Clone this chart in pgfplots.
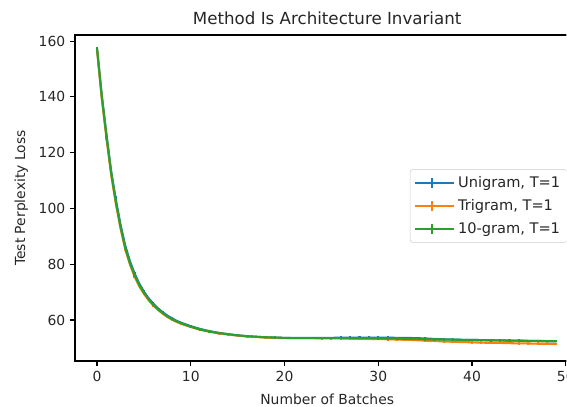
\documentclass[border=0pt]{standalone}
\usepackage{pgfplots}
\pgfplotsset{compat=1.18}
\usepackage{pgfplotstable}
\usepackage{fontspec}
\setmainfont{DejaVu Sans}
\definecolor{tabblue}{HTML}{1F77B4}
\definecolor{taborange}{HTML}{FF7F0E}
\definecolor{tabgreen}{HTML}{2CA02C}

\pgfplotstableread{
x y e
0 157.5 0.5
0.5 140.8 0
1 126.8 1.0
1.5 113.6 0
2 103.3 1.0
2.5 94.3 0
3 86.8 0.8
3.5 81.2 0
4 76.7 0.6
4.5 73.1 0
5 70.2 0.5
5.5 67.8 0
6 65.9 0.4
6.5 64.2 0
7 62.8 0.4
7.5 61.6 0
8 60.6 0.4
8.5 59.7 0
9 59.0 0.4
10 57.8 0.4
11 56.8 0.4
12 56.0 0.4
13 55.4 0.4
14 54.9 0.4
15 54.5 0.4
16 54.2 0.4
17 54.0 0.4
18 53.8 0.4
19 53.7 0.4
20 53.6 0.4
21 53.6 0.4
22 53.6 0.4
23 53.6 0.4
24 53.6 0.4
25 53.6 0.45
26 53.7 0.45
27 53.7 0.45
28 53.7 0.45
29 53.7 0.45
30 53.7 0.45
31 53.7 0.45
32 53.6 0.45
33 53.6 0.45
34 53.5 0.45
35 53.4 0.45
36 53.2 0.45
37 53.1 0.45
38 53.0 0.45
39 52.9 0.45
40 52.9 0.45
41 52.8 0.45
42 52.7 0.45
43 52.7 0.45
44 52.6 0.45
45 52.6 0.45
46 52.5 0.45
47 52.5 0.45
48 52.4 0.45
49 52.4 0.45
}\unigram

\pgfplotstableread{
x y e
0 157.0 0.5
0.5 139.6 0
1 125.4 0.8
1.5 112.2 0
2 101.8 0.8
2.5 92.9 0
3 85.5 0.6
3.5 80.0 0
4 75.6 0.5
4.5 72.1 0
5 69.4 0.4
5.5 67.1 0
6 65.2 0.4
6.5 63.6 0
7 62.3 0.4
7.5 61.1 0
8 60.1 0.4
8.5 59.3 0
9 58.6 0.4
10 57.5 0.4
11 56.5 0.4
12 55.8 0.4
13 55.2 0.4
14 54.8 0.4
15 54.4 0.4
16 54.1 0.4
17 53.9 0.4
18 53.7 0.4
19 53.6 0.4
20 53.5 0.4
21 53.5 0.4
22 53.5 0.4
23 53.5 0.4
24 53.4 0.4
25 53.4 0.45
26 53.4 0.45
27 53.3 0.45
28 53.3 0.45
29 53.2 0.45
30 53.2 0.45
31 53.1 0.45
32 53.0 0.45
33 52.9 0.45
34 52.8 0.45
35 52.6 0.45
36 52.5 0.45
37 52.3 0.45
38 52.2 0.45
39 52.1 0.45
40 52.0 0.45
41 51.9 0.45
42 51.8 0.45
43 51.8 0.45
44 51.7 0.45
45 51.6 0.45
46 51.6 0.45
47 51.5 0.45
48 51.5 0.45
49 51.4 0.45
}\trigram

\pgfplotstableread{
x y e
0 157.3 0.5
0.5 140.2 0
1 126.0 0.8
1.5 112.8 0
2 102.5 0.8
2.5 93.5 0
3 86.0 0.6
3.5 80.5 0
4 76.1 0.5
4.5 72.6 0
5 69.8 0.4
5.5 67.4 0
6 65.5 0.4
6.5 63.9 0
7 62.5 0.4
7.5 61.3 0
8 60.3 0.4
8.5 59.5 0
9 58.8 0.4
10 57.6 0.4
11 56.6 0.4
12 55.9 0.4
13 55.3 0.4
14 54.9 0.4
15 54.5 0.4
16 54.2 0.4
17 54.0 0.4
18 53.8 0.4
19 53.7 0.4
20 53.6 0.4
21 53.5 0.4
22 53.5 0.4
23 53.5 0.4
24 53.5 0.4
25 53.5 0.45
26 53.5 0.45
27 53.5 0.45
28 53.5 0.45
29 53.5 0.45
30 53.4 0.45
31 53.35 0.45
32 53.3 0.45
33 53.25 0.45
34 53.2 0.45
35 53.1 0.45
36 53.05 0.45
37 53.0 0.45
38 52.95 0.45
39 52.9 0.45
40 52.85 0.45
41 52.8 0.45
42 52.75 0.45
43 52.7 0.45
44 52.65 0.45
45 52.6 0.45
46 52.55 0.45
47 52.5 0.45
48 52.45 0.45
49 52.4 0.45
}\tengram

\begin{document}
\begin{tikzpicture}
\useasboundingbox (-54pt,-33.1pt) rectangle (354.2pt,259.9pt);
\clip (-54pt,-33.1pt) rectangle (353.8pt,259.9pt);
\begin{axis}[
  at={(0pt,0pt)}, anchor=south west,
  scale only axis,
  width=363.1pt, height=234.7pt,
  xmin=-2.35, xmax=51.45,
  ymin=45.3, ymax=162.2,
  xtick={0,10,20,30,40,50},
  ytick={60,80,100,120,140,160},
  tick align=outside,
  major tick length=3.5pt,
  every tick/.style={black, line width=0.8pt},
  axis line style={black, line width=0.8pt},
  xtick pos=bottom, ytick pos=left,
  /pgf/number format/assume math mode=true,
  tick label style={font=\fontsize{10pt}{12pt}\selectfont, text=black!85},
  every axis title/.style={at={(axis description cs:0.5,1.0307)}, anchor=base,
    font=\fontsize{12pt}{14pt}\selectfont, text=black!85},
  every axis x label/.style={at={(axis description cs:0.5,-0.132)}, anchor=base,
    font=\fontsize{10pt}{12pt}\selectfont, text=black!85},
  every axis y label/.style={at={(axis description cs:-0.0991,0.5)}, rotate=90, anchor=base,
    font=\fontsize{10pt}{12pt}\selectfont, text=black!85},
  title={Method Is Architecture Invariant},
  xlabel={Number of Batches},
  ylabel={Test Perplexity Loss},
  legend cell align=left,
  legend style={at={(axis description cs:0.664,0.588)}, anchor=north west,
    draw=black!20, fill=white, rounded corners=2pt,
    font=\fontsize{10.5pt}{12pt}\selectfont, text=black!85,
    row sep=3.1pt, inner sep=3pt},
  legend image code/.code={
    \path (0pt,0pt) -- (28pt,0pt);
    \draw[#1, line width=1.5pt] (0pt,0pt) -- (24pt,0pt);
    \draw[#1, line width=1.5pt] (12pt,-3.6pt) -- (12pt,3.6pt);
  },
]
\addplot[tabblue, line width=1.5pt, no markers,
  error bars/.cd, y dir=both, y explicit, error mark=none,
  error bar style={line width=1.5pt}]
  table[x=x, y=y, y error=e] {\unigram};
\addlegendentry{Unigram, T=1\hspace{8pt}}
\addplot[taborange, line width=1.5pt, no markers,
  error bars/.cd, y dir=both, y explicit, error mark=none,
  error bar style={line width=1.5pt}]
  table[x=x, y=y, y error=e] {\trigram};
\addlegendentry{Trigram, T=1}
\addplot[tabgreen, line width=1.5pt, no markers,
  error bars/.cd, y dir=both, y explicit, error mark=none,
  error bar style={line width=1.5pt}]
  table[x=x, y=y, y error=e] {\tengram};
\addlegendentry{10-gram, T=1}
\end{axis}
\end{tikzpicture}
\end{document}
